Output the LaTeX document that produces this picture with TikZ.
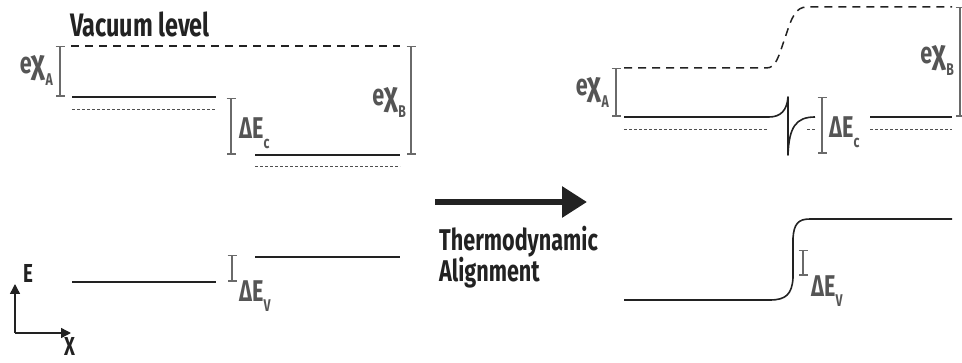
\documentclass[tikz,border=0pt]{standalone}
\usepackage{fontspec}
\newfontfamily\dinfont{Fira Sans}[FakeStretch=0.72]
\usetikzlibrary{arrows.meta}
\definecolor{ink}{HTML}{222222}
\definecolor{labc}{HTML}{555555}
\definecolor{brkc}{HTML}{6A6A6A}
\definecolor{subc}{HTML}{505050}
\newcommand\lsub[2][12pt]{\raisebox{-#1}{\fontsize{17}{17}\selectfont #2}}
\newcommand\bigchi{\scalebox{1.3}[1.1]{χ}}
\tikzset{
  lvl/.style={draw=ink, line width=1.8pt},
  vac/.style={draw=ink, line width=1.5pt, dash pattern=on 8pt off 6pt},
  subl/.style={draw=subc, line width=0.9pt, dash pattern=on 3pt off 2pt},
  brk/.style={draw=brkc, line width=1.5pt, {Bar[width=9pt]}-{Bar[width=9pt]}},
  lab/.style={text=labc, inner sep=0pt, font=\dinfont\bfseries\fontsize{30}{30}\selectfont},
  ttl/.style={text=ink, inner sep=0pt, font=\dinfont\bfseries\fontsize{30}{30}\selectfont},
  axl/.style={text=ink, inner sep=0pt, font=\dinfont\bfseries\fontsize{26}{26}\selectfont},
}
\begin{document}
\begin{tikzpicture}[x=1pt,y=-1pt]
\useasboundingbox (0,0) rectangle (962,363);

% ---------------- left panel ----------------
\node[ttl, anchor=base west, font=\dinfont\bfseries\fontsize{32.5}{32.5}\selectfont] (vaclab) at (70,37) {Vacuum level};
\draw[vac] (71,46) -- (400,46);
% conduction bands
\draw[lvl] (72,97) -- (216,97);
\draw[subl] (72,109) -- (216,109);
\draw[lvl] (255,155) -- (400,155);
\draw[subl] (255,166) -- (400,166);
% valence bands
\draw[lvl] (72,282) -- (216,282);
\draw[lvl] (255,257) -- (400,257);
% brackets
\draw[brk] (60,46) -- (60,97);
\draw[brk] (231,98) -- (231,155);
\draw[brk] (411,46) -- (411,155);
\draw[brk] (232,255) -- (232,282);
% labels
\node[lab, anchor=base east] (chiA) at (53,74) {e\bigchi\lsub{A}};
\node[lab, anchor=base west] (dEc) at (239,139) {ΔE\lsub[10pt]{c}};
\node[lab, anchor=base east] (chiB) at (406,106) {e\bigchi\lsub{B}};
\node[lab, anchor=base west] (dEv) at (239,302) {ΔE\lsub[10pt]{V}};

% axes
\coordinate (orig) at (15,333);
\coordinate (ytip) at (15,284);
\coordinate (xtip) at (71,333);
\draw[draw=ink, line width=1.4pt, -{Triangle[length=10pt,width=10pt]}] (orig) -- (ytip);
\draw[draw=ink, line width=1.4pt, -{Triangle[length=10pt,width=10pt]}] (orig) -- (xtip);
\node[axl, anchor=base west] (elab) at (23,283) {E};
\node[axl, anchor=base west] (xlab) at (64,356) {X};

% ---------------- transition arrow ----------------
\coordinate (as) at (435,202);
\coordinate (ae) at (587,202);
\draw[draw=ink, line width=6pt, -{Triangle[length=25pt,width=30pt]}] (as) -- (ae);
\node[ttl, anchor=base west] (t1) at (439,251) {Thermodynamic};
\node[ttl, anchor=base west] (t2) at (439,282) {Alignment};

% ---------------- right panel ----------------
\draw[vac] (624,68) -- (766,68) .. controls (776,68) and (778,58) .. (785,38)
   .. controls (792,16) and (796,7) .. (807,7) -- (952,7);
\draw[lvl, line width=1.6pt, line join=round] (624,117) -- (769,117)
   .. controls (781,117) and (787,110) .. (788,97) -- (788,155)
   .. controls (789,127) and (796,117) .. (815,117);
\draw[subl] (624,129) -- (767,129);
\draw[subl] (807,129) -- (815,129);
\draw[lvl] (870,117) -- (952,117);
\draw[subl] (870,129) -- (952,129);
\draw[lvl, line width=1.6pt] (624,300) -- (770,300)
   .. controls (786,300) and (792,294) .. (793,278) -- (793,238)
   .. controls (794,224) and (798,219) .. (810,219) -- (952,219);
% brackets
\draw[brk] (616,68) -- (616,117);
\draw[brk] (822,97) -- (822,154);
\draw[brk] (960,7) -- (960,117);
\draw[brk] (803,250) -- (803,276);
% labels
\node[lab, anchor=base east] (chiA2) at (609,96) {e\bigchi\lsub{A}};
\node[lab, anchor=base west] (dEc2) at (829,138) {ΔE\lsub[10pt]{c}};
\node[lab, anchor=base east] (chiB2) at (954,64) {e\bigchi\lsub{B}};
\node[lab, anchor=base west] (dEv2) at (811,297) {ΔE\lsub[10pt]{V}};
\end{tikzpicture}
\end{document}
